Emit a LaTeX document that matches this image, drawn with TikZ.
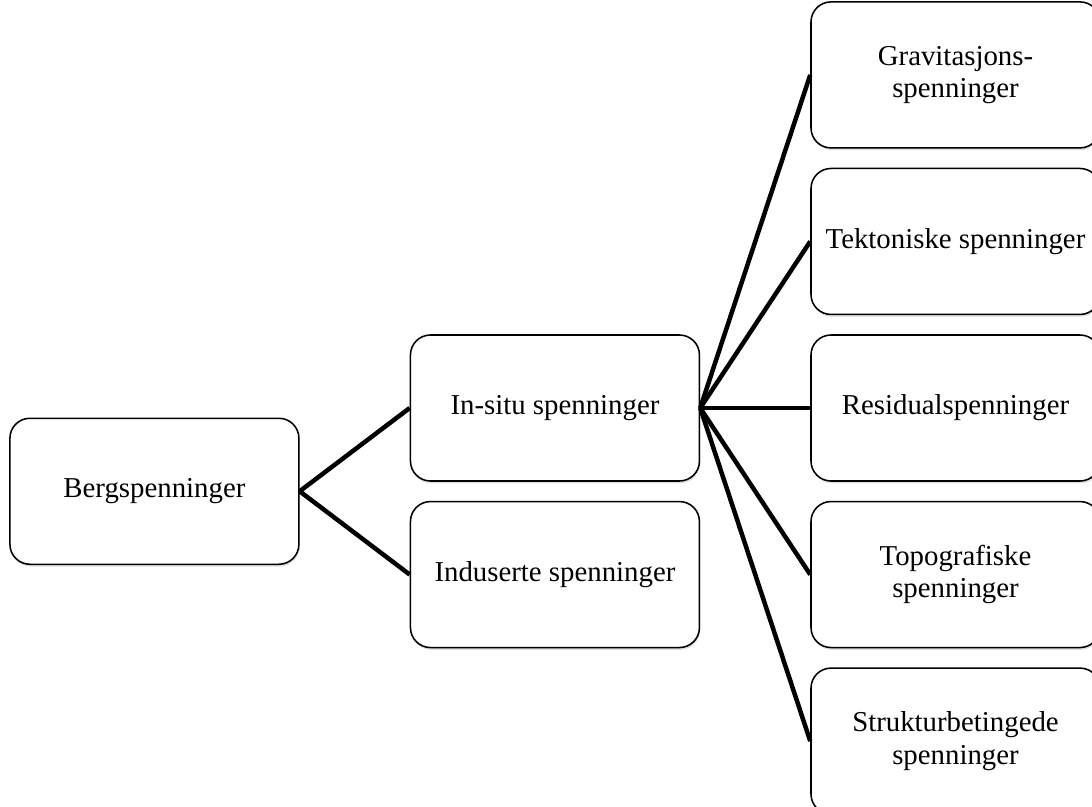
\documentclass[tikz,border=0pt]{standalone}
\usepackage{fontspec}
\setmainfont{Liberation Serif}
\usepackage{tikz}
\usetikzlibrary{positioning, calc, shadows}

\begin{document}
\begin{tikzpicture}[
      node distance=0.475cm and 2.75cm,
      box/.style={draw, line width=1.1pt, rounded corners=0.5cm, fill=white,
        minimum width=7.225cm, minimum height=3.65cm, align=center,
        font=\fontsize{20.5}{23}\selectfont,
        drop shadow={opacity=0.25, shadow xshift=0.6pt, shadow yshift=-1.6pt}},
      link/.style={line width=3.2pt}
    ]
    \useasboundingbox (0,0) rectangle (27.3,-20.175);
    % right column
    \node[box] (resid) at (23.8875,-10.2) {Residualspenninger};
    \node[box, above=of resid] (tekt)  {Tektoniske spenninger};
    \node[box, above=of tekt]  (grav)  {Gravitasjons-\\spenninger};
    \node[box, below=of resid] (topo)  {Topografiske\\spenninger};
    \node[box, below=of topo]  (struk) {Strukturbetingede\\spenninger};
    % middle column
    \node[box, left=of resid]  (insitu) {In-situ spenninger};
    \node[box, below=of insitu] (indus) {Induserte spenninger};
    \coordinate (mid) at ($(insitu.west)!0.5!(indus.west)$);
    \node[box, left=of mid] (berg) {Bergspenninger};
    \draw[link] (berg.east) -- (insitu.west);
    \draw[link] (berg.east) -- (indus.west);
    \foreach \n in {grav, tekt, resid, topo, struk}
      \draw[link] (insitu.east) -- (\n.west);
  \end{tikzpicture}
\end{document}
